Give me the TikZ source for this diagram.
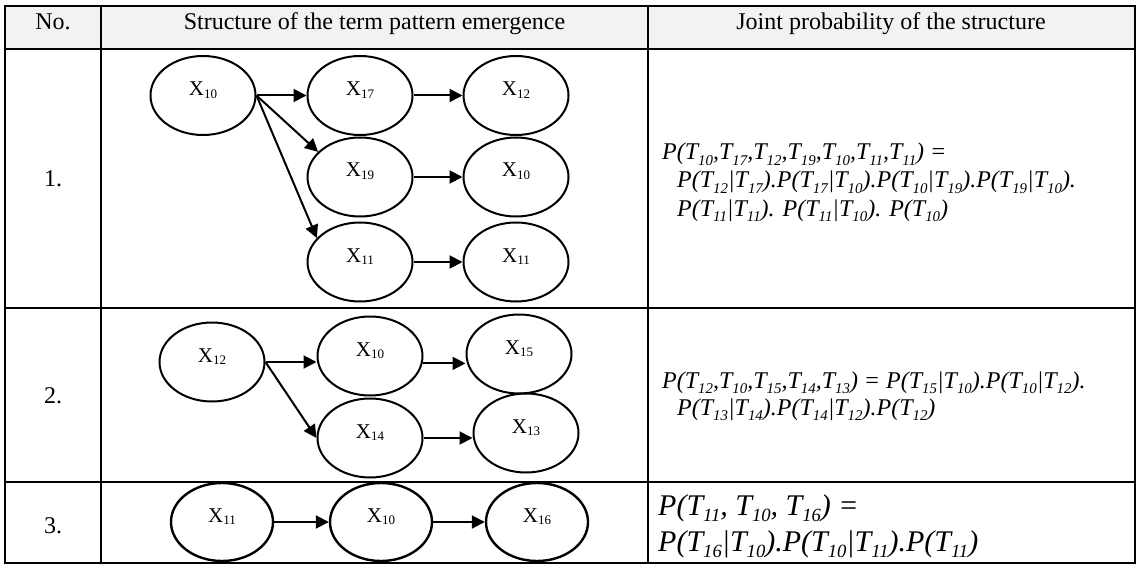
\documentclass[tikz,border=0pt]{standalone}
\usepackage{fontspec}
\setmainfont{Liberation Serif}
\usetikzlibrary{shapes.geometric,arrows.meta}
\definecolor{hdrgray}{HTML}{F2F2F2}
% lowered, reduced index used in node labels and formulas
\newcommand{\subsc}[1]{\raisebox{-0.22em}{\scalebox{0.62}{#1}}}
\newcommand{\Tv}[1]{T\subsc{#1}}
\newcommand{\Xv}[1]{X\raisebox{-0.12em}{\scalebox{0.62}{#1}}}
\tikzset{
  tline/.style={line width=2pt},
  nd/.style={ellipse, draw, line width=2pt, minimum width=105pt, minimum height=79pt, inner sep=0pt},
  ndsm/.style={nd, line width=2.4pt, minimum width=102pt, minimum height=78pt},
  lbl/.style={anchor=base, inner sep=0pt, font=\fontsize{21}{21}\selectfont},
  arr/.style={line width=2pt, -{Triangle[length=13pt,width=13pt]}},
  hd/.style={anchor=base, inner sep=0pt, font=\fontsize{24}{28}\selectfont},
  fm/.style={anchor=base west, inner sep=0pt, font=\fontsize{24}{28}\selectfont\itshape},
  fmb/.style={anchor=base west, inner sep=0pt, font=\fontsize{30}{35}\selectfont\itshape}
}
\begin{document}
\begin{tikzpicture}[x=1pt,y=-1pt]
\useasboundingbox (0,0) rectangle (1137,564);
% header background and table rules
\fill[hdrgray] (5,6.5) rectangle (1135,49.5);
\draw[tline] (5,6.5) rectangle (1135,563);
\draw[tline] (101,6.5) -- (101,563);
\draw[tline] (648,6.5) -- (648,563);
\draw[tline] (5,49.5) -- (1135,49.5);
\draw[tline] (5,308) -- (1135,308);
\draw[tline] (5,482) -- (1135,482);

% header
\node[hd] (hno) at (53,30) {No.};
\node[hd] (hst) at (374.5,30) {Structure of the term pattern emergence};
\node[hd] (hjp) at (891,30) {Joint probability of the structure};

% row numbers
\node[hd] (n1) at (53,186) {1.};
\node[hd] (n2) at (53,403) {2.};
\node[hd] (n3) at (53,533) {3.};

% row 1 structure
\node[nd] (a1) at (203,95.5) {};
\node[nd] (a2) at (360,95.5) {};
\node[nd] (a3) at (516,95.5) {};
\node[nd] (a4) at (360,177) {};
\node[nd] (a5) at (516,177) {};
\node[nd] (a6) at (360,262) {};
\node[nd] (a7) at (516,262) {};
\node[lbl] (a1t) at (a1.center) {\Xv{10}};
\node[lbl] (a2t) at (a2.center) {\Xv{17}};
\node[lbl] (a3t) at (a3.center) {\Xv{12}};
\node[lbl] (a4t) at (a4.center) {\Xv{19}};
\node[lbl] (a5t) at (a5.center) {\Xv{10}};
\node[lbl] (a6t) at (a6.center) {\Xv{11}};
\node[lbl] (a7t) at (a7.center) {\Xv{11}};
\draw[arr] (a1.east) -- (a2.west);
\draw[arr] (a2.east) -- (a3.west);
\draw[arr] (a1.east) -- (a4.149);
\draw[arr] (a1.east) -- (a6.151);
\draw[arr] (a4.east) -- (a5.west);
\draw[arr] (a6.east) -- (a7.west);

% row 1 joint probability
\node[fm] (f1a) at (662,160) {P(\Tv{10},\Tv{17},\Tv{12},\Tv{19},\Tv{10},\Tv{11},\Tv{11}) =};
\node[fm] (f1b) at (677,188) {P(\Tv{12}|\Tv{17}).P(\Tv{17}|\Tv{10}).P(\Tv{10}|\Tv{19}).P(\Tv{19}|\Tv{10}).};
\node[fm] (f1c) at (677,216) {P(\Tv{11}|\Tv{11}). P(\Tv{11}|\Tv{10}). P(\Tv{10})};

% row 2 structure
\node[nd] (b1) at (212,362) {};
\node[nd] (b2) at (370,356) {};
\node[nd] (b3) at (519,354) {};
\node[nd] (b4) at (370,438) {};
\node[nd] (b5) at (526,433) {};
\node[lbl] (b1t) at (b1.center) {\Xv{12}};
\node[lbl] (b2t) at (b2.center) {\Xv{10}};
\node[lbl] (b3t) at (b3.center) {\Xv{15}};
\node[lbl] (b4t) at (b4.center) {\Xv{14}};
\node[lbl] (b5t) at (b5.center) {\Xv{13}};
\draw[arr] (b1.east) -- (b1.east -| b2.west);
\draw[arr] (b1.east) -- (b4.west);
\draw[arr] (b2.-8) -- (b2.-8 -| b3.west);
\draw[arr] (b4.east) -- (b4.east -| b5.west);

% row 2 joint probability
\node[fm] (f2a) at (662,388) {P(\Tv{12},\Tv{10},\Tv{15},\Tv{14},\Tv{13}) = P(\Tv{15}|\Tv{10}).P(\Tv{10}|\Tv{12}).};
\node[fm] (f2b) at (677,415) {P(\Tv{13}|\Tv{14}).P(\Tv{14}|\Tv{12}).P(\Tv{12})};

% row 3 structure
\node[ndsm] (c1) at (222,522) {};
\node[ndsm] (c2) at (381,522) {};
\node[ndsm] (c3) at (537,522) {};
\node[lbl] (c1t) at (c1.center) {\Xv{11}};
\node[lbl] (c2t) at (c2.center) {\Xv{10}};
\node[lbl] (c3t) at (c3.center) {\Xv{16}};
\draw[arr] (c1.east) -- (c2.west);
\draw[arr] (c2.east) -- (c3.west);

% row 3 joint probability
\node[fmb] (f3a) at (658,515) {P(\Tv{11}, \Tv{10}, \Tv{16}) =};
\node[fmb] (f3b) at (658,551) {P(\Tv{16}|\Tv{10}).P(\Tv{10}|\Tv{11}).P(\Tv{11})};
\end{tikzpicture}
\end{document}
